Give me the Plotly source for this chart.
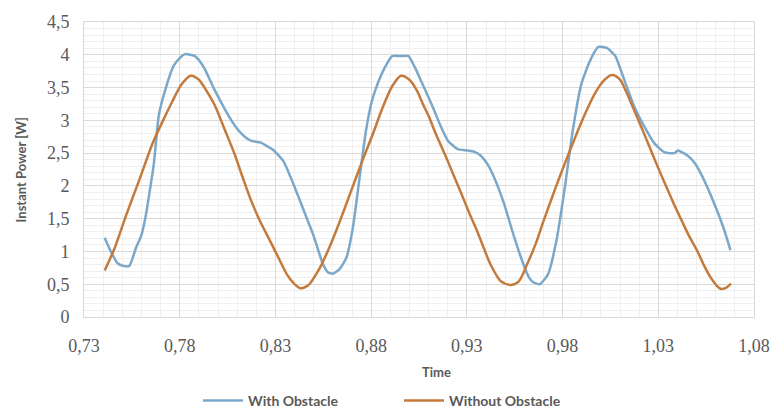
import plotly.graph_objects as go

# Data
time_with = [0.7408, 0.7440, 0.7475, 0.7505, 0.7537, 0.7571, 0.7600, 0.7623, 0.7645, 0.7665,
             0.7691, 0.7726, 0.7768, 0.7800, 0.7828, 0.7855, 0.7880, 0.7905, 0.7931, 0.7983,
             0.8034, 0.8070, 0.8103, 0.8140, 0.8171, 0.8223, 0.8260, 0.8292, 0.8343, 0.8395,
             0.8446, 0.8498, 0.8549, 0.8575, 0.8600, 0.8635, 0.8670, 0.8704, 0.8738, 0.8773,
             0.8800, 0.8824, 0.8867, 0.8910, 0.8960, 0.8995, 0.9030, 0.9064, 0.9100, 0.9132,
             0.9165, 0.9201, 0.9252, 0.9304, 0.9340, 0.9373, 0.9410, 0.9441, 0.9493, 0.9544,
             0.9596, 0.9625, 0.9647, 0.9681, 0.9724, 0.9767, 0.9810, 0.9853, 0.9896, 0.9939,
             0.9987, 1.0033, 1.0076, 1.0100, 1.0127, 1.0179, 1.0230, 1.0282, 1.0334, 1.0385,
             1.0402, 1.0454, 1.0490, 1.0522, 1.0591, 1.0642, 1.0677]
power_with = [1.21, 1.00, 0.82, 0.78, 0.78, 1.05, 1.25, 1.55, 1.95, 2.34,
              3.08, 3.48, 3.83, 3.95, 4.01, 4.00, 3.98, 3.90, 3.78, 3.46,
              3.18, 3.00, 2.86, 2.75, 2.69, 2.66, 2.60, 2.54, 2.37, 2.02,
              1.64, 1.25, 0.80, 0.68, 0.66, 0.73, 0.90, 1.35, 2.09, 2.84,
              3.25, 3.48, 3.78, 3.98, 3.98, 3.98, 3.80, 3.58, 3.35, 3.13,
              2.90, 2.69, 2.56, 2.54, 2.52, 2.46, 2.32, 2.14, 1.74, 1.25,
              0.80, 0.60, 0.53, 0.50, 0.65, 1.15, 1.94, 2.84, 3.53, 3.88,
              4.12, 4.10, 3.98, 3.80, 3.58, 3.18, 2.89, 2.64, 2.51, 2.50,
              2.54, 2.46, 2.35, 2.19, 1.74, 1.35, 1.02]

time_without = [0.7408, 0.7460, 0.7520, 0.7590, 0.7657, 0.7710, 0.7760, 0.7810, 0.7857, 0.7900,
                0.7940, 0.7983, 0.8035, 0.8086, 0.8130, 0.8171, 0.8220, 0.8274, 0.8320, 0.8360,
                0.8400, 0.8429, 0.8470, 0.8532, 0.8580, 0.8635, 0.8695, 0.8755, 0.8810, 0.8858,
                0.8910, 0.8956, 0.9000, 0.9040, 0.9070, 0.9098, 0.9140, 0.9184, 0.9227, 0.9270,
                0.9312, 0.9355, 0.9390, 0.9424, 0.9476, 0.9527, 0.9570, 0.9614, 0.9660, 0.9699,
                0.9742, 0.9785, 0.9836, 0.9887, 0.9930, 0.9973, 1.0020, 1.0059, 1.0100, 1.0130,
                1.0163, 1.0205, 1.0248, 1.0290, 1.0334, 1.0376, 1.0419, 1.0462, 1.0505, 1.0540,
                1.0574, 1.0605, 1.0625, 1.0650, 1.0680]
power_without = [0.71, 1.05, 1.55, 2.10, 2.64, 2.98, 3.28, 3.55, 3.68, 3.62,
                 3.45, 3.23, 2.86, 2.49, 2.12, 1.79, 1.46, 1.15, 0.88, 0.65,
                 0.50, 0.44, 0.48, 0.75, 1.05, 1.45, 1.92, 2.39, 2.80, 3.18,
                 3.52, 3.68, 3.62, 3.45, 3.25, 3.08, 2.78, 2.49, 2.19, 1.89,
                 1.59, 1.30, 1.04, 0.80, 0.55, 0.49, 0.54, 0.80, 1.12, 1.45,
                 1.80, 2.14, 2.52, 2.89, 3.18, 3.43, 3.62, 3.69, 3.62, 3.45,
                 3.23, 2.94, 2.64, 2.34, 2.04, 1.76, 1.49, 1.23, 1.00, 0.78,
                 0.60, 0.48, 0.43, 0.44, 0.51]

x_ticks = [0.73, 0.78, 0.83, 0.88, 0.93, 0.98, 1.03, 1.08]
y_ticks = [0, 0.5, 1, 1.5, 2, 2.5, 3, 3.5, 4, 4.5]

BLUE = "#7BA8C8"
ORANGE = "#C47A3C"
TXT = "#595959"

fig = go.Figure()
fig.add_trace(go.Scatter(x=time_with, y=power_with, mode="lines", name="With Obstacle",
                         line=dict(color=BLUE, width=2.5, shape="spline", smoothing=0.5)))
fig.add_trace(go.Scatter(x=time_without, y=power_without, mode="lines", name="Without Obstacle",
                         line=dict(color=ORANGE, width=2.5, shape="spline", smoothing=0.8)))

fig.update_layout(
    width=782, height=412,
    margin=dict(l=84, r=18, t=15, b=95),
    paper_bgcolor="white", plot_bgcolor="white",
    separators=",.",
    showlegend=True,
    legend=dict(orientation="h", xref="container", yref="container", x=198 / 782, xanchor="left",
                y=(412 - 401) / 412, yanchor="middle",
                font=dict(family="Lato", size=14, color=TXT, weight="bold"),
                entrywidth=146, itemwidth=40),
    xaxis=dict(range=[0.73, 1.08], tickvals=x_ticks, ticktext=[("%.2f" % v).replace(".", ",") for v in x_ticks],
               showgrid=True, gridcolor="#D9D9D9", gridwidth=1,
               minor=dict(dtick=0.01, tick0=0.73, showgrid=True, gridcolor="#EFEFEF", gridwidth=1),
               showline=True, linecolor="#D9D9D9", mirror=True, zeroline=False,
               ticks="outside", ticklen=12, tickcolor="rgba(0,0,0,0)",
               tickfont=dict(family="Liberation Serif", size=18, color=TXT)),
    yaxis=dict(range=[0, 4.5], tickvals=y_ticks, ticktext=[("%g" % v).replace(".", ",") for v in y_ticks],
               showgrid=True, gridcolor="#D9D9D9", gridwidth=1,
               minor=dict(dtick=0.1, showgrid=True, gridcolor="#EFEFEF", gridwidth=1),
               showline=True, linecolor="#D9D9D9", mirror=True, zeroline=False,
               ticks="outside", ticklen=10, tickcolor="rgba(0,0,0,0)",
               tickfont=dict(family="Liberation Serif", size=18, color=TXT)),
    annotations=[
        dict(text="Time", xref="paper", yref="paper", x=(442 - 84) / 680, y=-0.185,
             xanchor="center", yanchor="middle", showarrow=False,
             font=dict(family="Lato", size=13, color=TXT, weight="bold")),
        dict(text="Instant Power [W]", xref="paper", yref="paper", x=(20 - 84) / 680, y=0.5,
             xanchor="center", yanchor="middle", textangle=-90, showarrow=False,
             font=dict(family="Lato", size=13, color=TXT, weight="bold")),
    ],
)

fig.write_html("out.html")
